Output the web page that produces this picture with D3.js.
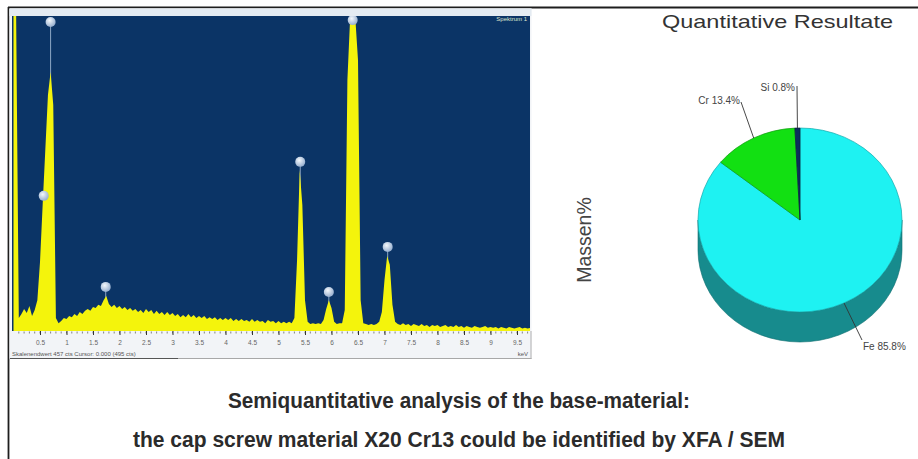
<!DOCTYPE html>
<html>
<head>
<meta charset="utf-8">
<script src="https://cdn.jsdelivr.net/npm/d3@7"></script>
<style>
  body { margin: 0; background: #fff; }
  svg { display: block; }
</style>
</head>
<body>
<script>
// spectrum: counts per channel, channel width 0.05 keV starting at 0 keV
var spec_step = 0.05
var spec_counts = [
  1000, 1000, 41, 54, 70, 57, 79, 48, 67, 98,
  219, 400, 575, 749, 822, 718, 41, 25, 32, 41,
  38, 48, 44, 54, 48, 60, 54, 64, 70, 64,
  76, 73, 83, 79, 98, 111, 86, 76, 83, 73,
  79, 70, 76, 67, 73, 64, 70, 60, 67, 57,
  70, 60, 67, 54, 64, 54, 60, 51, 60, 51,
  57, 48, 54, 44, 51, 44, 54, 44, 51, 41,
  48, 41, 48, 38, 44, 38, 44, 35, 41, 35,
  41, 35, 41, 32, 38, 32, 38, 32, 35, 29,
  38, 29, 35, 29, 32, 25, 35, 29, 32, 25,
  32, 25, 29, 25, 29, 25, 41, 225, 511, 400,
  98, 29, 22, 25, 22, 25, 22, 35, 70, 98,
  73, 29, 22, 25, 25, 67, 797, 987, 997, 991,
  860, 98, 25, 22, 19, 22, 19, 22, 29, 60,
  162, 238, 210, 83, 29, 22, 19, 25, 19, 22,
  16, 22, 19, 16, 22, 16, 19, 13, 19, 16,
  19, 13, 16, 19, 13, 16, 13, 19, 13, 16,
  10, 16, 13, 10, 16, 13, 10, 13, 16, 10,
  13, 10, 13, 8, 13, 10, 8, 13, 10, 8,
  10, 13, 8, 10, 8, 10
]
// identified lines (marker circles)
var peak_names = ['Cr L', 'Fe L', 'Si K', 'Cr Ka', 'Cr Kb', 'Fe Ka', 'Fe Kb']
var peak_keV = [0.57, 0.70, 1.74, 5.41, 5.95, 6.40, 7.06]
var peak_cts = [429, 981, 140, 537, 124, 987, 267]
var keV_ticks = [0.5, 1, 1.5, 2, 2.5, 3, 3.5, 4, 4.5, 5, 5.5, 6, 6.5, 7, 7.5, 8, 8.5, 9, 9.5]

// quantitative result
var elements = ['Fe', 'Cr', 'Si']
var mass_pct = [85.8, 13.4, 0.8]
var pie_top = ['#1ef2f2', '#12e012', '#0b2d5c']
var pie_side = ['#178b8d', '#0c9a0c', '#081f40']

var W = 918, H = 459
var svg = d3.select('body').append('svg').attr('width', W).attr('height', H)

// outer frame
svg.append('line').attr('x1', 8).attr('x2', W).attr('y1', 7.5).attr('y2', 7.5)
  .attr('stroke', '#1e1e1e').attr('stroke-width', 1.8)
svg.append('line').attr('x1', 8.5).attr('x2', 8.5).attr('y1', 7).attr('y2', H)
  .attr('stroke', '#1e1e1e').attr('stroke-width', 1.8)

// ---------- spectrum panel ----------
var sp = { left: 12, right: 530, top: 16, bottom: 331 }

svg.append('rect').attr('x', 9.5).attr('y', 8.5).attr('width', 522).attr('height', 350)
  .attr('fill', '#f2f4f7')
svg.append('rect').attr('x', 9.5).attr('y', 8.5).attr('width', 522).attr('height', 7.5)
  .attr('fill', '#e4ebf2')
svg.append('line').attr('x1', 10).attr('x2', 531.5).attr('y1', 358.5).attr('y2', 358.5)
  .attr('stroke', '#a8a8a8')
svg.append('line').attr('x1', 10).attr('x2', 178).attr('y1', 358.5).attr('y2', 358.5)
  .attr('stroke', '#555')
svg.append('line').attr('x1', 531).attr('x2', 531).attr('y1', 331).attr('y2', 359)
  .attr('stroke', '#b0b0b0')

svg.append('rect').attr('x', sp.left).attr('y', sp.top)
  .attr('width', sp.right - sp.left).attr('height', sp.bottom - sp.top)
  .attr('fill', '#0b3466')

var defs = svg.append('defs')
defs.append('clipPath').attr('id', 'spclip').append('rect')
  .attr('x', sp.left).attr('y', sp.top)
  .attr('width', sp.right - sp.left).attr('height', sp.bottom - sp.top)
var grad = defs.append('radialGradient').attr('id', 'mk').attr('cx', '40%').attr('cy', '35%').attr('r', '65%')
grad.append('stop').attr('offset', '0%').attr('stop-color', '#f4f8fc')
grad.append('stop').attr('offset', '100%').attr('stop-color', '#97afcf')

var sp_x = d3.scaleLinear().domain([0, 9.75]).range([13.5, 530.25])
var sp_y = d3.scaleLinear().domain([0, 1000]).range([sp.bottom, sp.top]).clamp(true)

var g_sp = svg.append('g').attr('clip-path', 'url(#spclip)')

// marker stems (under the spectrum)
g_sp.selectAll('.stem').data(peak_keV).enter().append('line')
  .attr('x1', d => sp_x(d)).attr('x2', d => sp_x(d))
  .attr('y1', (d, i) => sp_y(peak_cts[i])).attr('y2', sp.bottom)
  .attr('stroke', '#8ea7c6').attr('stroke-width', 1)

var area = d3.area()
  .x((d, i) => sp_x(i * spec_step))
  .y0(sp.bottom)
  .y1(d => sp_y(d))
g_sp.append('path').datum(spec_counts).attr('d', area).attr('fill', '#f4f40c')

g_sp.selectAll('.mk').data(peak_keV).enter().append('circle')
  .attr('cx', d => sp_x(d)).attr('cy', (d, i) => sp_y(peak_cts[i]))
  .attr('r', 5).attr('fill', 'url(#mk)')

svg.append('text').attr('x', 527).attr('y', 21).attr('text-anchor', 'end')
  .style('font', '6px "Liberation Sans", Arial, sans-serif').attr('fill', '#dfe6d0')
  .text('Spektrum 1')

// keV axis
var ax = svg.append('g').attr('transform', 'translate(0,' + sp.bottom + ')')
ax.selectAll('.minor').data(d3.range(0.1, 9.75, 0.1)).enter().append('line')
  .attr('x1', d => sp_x(d)).attr('x2', d => sp_x(d))
  .attr('y1', 0.5).attr('y2', 2.5).attr('stroke', '#666').attr('stroke-width', 0.8)
ax.call(d3.axisBottom(sp_x).tickValues(keV_ticks).tickFormat(d => String(d))
  .tickSize(4).tickPadding(5))
ax.select('.domain').remove()
ax.selectAll('.tick line').attr('stroke', '#333')
ax.selectAll('.tick text').attr('fill', '#666')
  .style('font', '6.5px "Liberation Sans", Arial, sans-serif')

svg.append('text').attr('x', 12).attr('y', 356)
  .style('font', '6px "Liberation Sans", Arial, sans-serif').attr('fill', '#555')
  .text('Skalenendwert 457 cts Cursor: 0.000 (495 cts)')
svg.append('text').attr('x', 528).attr('y', 356).attr('text-anchor', 'end')
  .style('font', '6px "Liberation Sans", Arial, sans-serif').attr('fill', '#555')
  .text('keV')

// ---------- pie ----------
var pc = { cx: 800, cy: 220, rx: 102, ry: 92, depth: 30 }

svg.append('text').attr('x', 662).attr('y', 28)
  .attr('textLength', 231).attr('lengthAdjust', 'spacingAndGlyphs')
  .style('font', '18.5px "Liberation Sans", Arial, sans-serif').attr('fill', '#333')
  .text('Quantitative Resultate')

svg.append('text').attr('transform', 'translate(591,240) rotate(-90)')
  .attr('text-anchor', 'middle')
  .style('font', '19.5px "Liberation Sans", Arial, sans-serif').attr('fill', '#444')
  .text('Massen%')

var pie = d3.pie().sort(null).startAngle(0).endAngle(2 * Math.PI)
var arcs = pie(mass_pct)

function edgeX(a) { return pc.cx + pc.rx * Math.sin(a) }
function edgeY(a) { return pc.cy - pc.ry * Math.cos(a) }

function sidePath(a0, a1) {
  var s = Math.max(a0, Math.PI / 2), e = Math.min(a1, 3 * Math.PI / 2)
  if (s >= e) return null
  return 'M' + edgeX(s) + ',' + edgeY(s) +
    'A' + pc.rx + ',' + pc.ry + ' 0 0 1 ' + edgeX(e) + ',' + edgeY(e) +
    'L' + edgeX(e) + ',' + (edgeY(e) + pc.depth) +
    'A' + pc.rx + ',' + pc.ry + ' 0 0 0 ' + edgeX(s) + ',' + (edgeY(s) + pc.depth) + 'Z'
}

svg.selectAll('.side').data(arcs).enter().append('path')
  .attr('d', d => sidePath(d.startAngle, d.endAngle))
  .attr('fill', (d, i) => pie_side[i])
  .attr('stroke', '#0f6e70').attr('stroke-width', 0.6)

var arcGen = d3.arc().innerRadius(0).outerRadius(pc.rx)
svg.append('g')
  .attr('transform', 'translate(' + pc.cx + ',' + pc.cy + ') scale(1,' + (pc.ry / pc.rx) + ')')
  .selectAll('path').data(arcs).enter().append('path')
  .attr('d', arcGen)
  .attr('fill', (d, i) => pie_top[i])
  .attr('stroke', (d, i) => i === 0 ? '#14a8aa' : pie_side[i])
  .attr('stroke-width', 0.7).attr('vector-effect', 'non-scaling-stroke')

// labels with leader lines
var lab = [
  { x: 863, y: 350, anchor: 'start', lx: 862, ly: 340 },
  { x: 740, y: 104, anchor: 'end', lx: 741, ly: 102 },
  { x: 795, y: 91, anchor: 'end', lx: 797, ly: 86 }
]
arcs.forEach(function(d, i) {
  var m = (d.startAngle + d.endAngle) / 2
  svg.append('line')
    .attr('x1', edgeX(m)).attr('y1', edgeY(m))
    .attr('x2', lab[i].lx).attr('y2', lab[i].ly)
    .attr('stroke', '#333').attr('stroke-width', 0.9)
  svg.append('text').attr('x', lab[i].x).attr('y', lab[i].y)
    .attr('text-anchor', lab[i].anchor)
    .style('font', '10px "Liberation Sans", Arial, sans-serif').attr('fill', '#444')
    .text(elements[i] + ' ' + mass_pct[i].toFixed(1) + '%')
})

// ---------- caption ----------
var cap = svg.append('g')
  .style('font-family', '"Liberation Sans", Arial, sans-serif')
  .style('font-weight', 'bold').style('font-size', '22px').attr('fill', '#2b2b2b')
cap.append('text').attr('x', 459).attr('y', 408).attr('text-anchor', 'middle')
  .attr('textLength', 462).attr('lengthAdjust', 'spacingAndGlyphs')
  .text('Semiquantitative analysis of the base-material:')
cap.append('text').attr('x', 459).attr('y', 447).attr('text-anchor', 'middle')
  .attr('textLength', 652).attr('lengthAdjust', 'spacingAndGlyphs')
  .text('the cap screw material X20 Cr13 could be identified by XFA / SEM')
</script>
</body>
</html>
